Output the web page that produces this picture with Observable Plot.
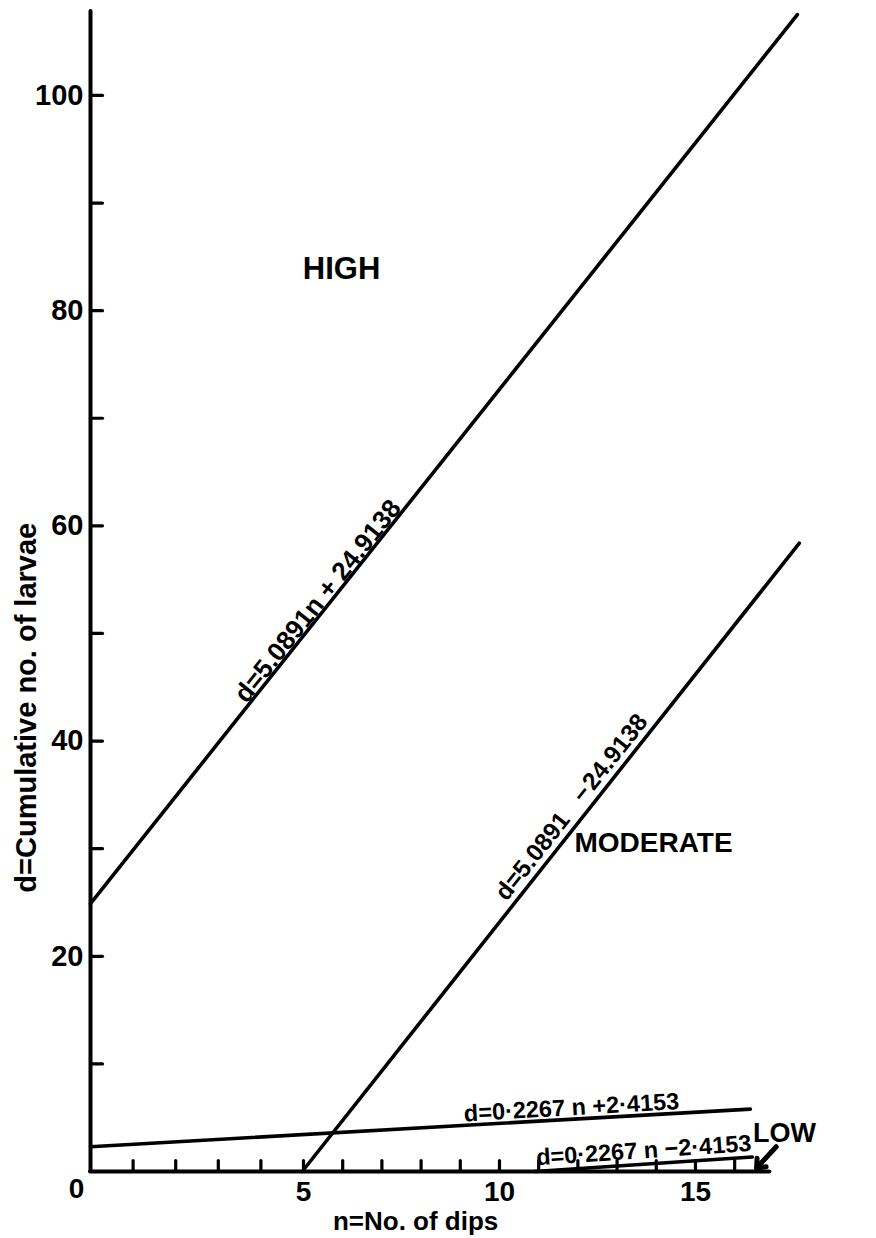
<!DOCTYPE html>
<html><head><meta charset="utf-8">
<script src="https://cdn.jsdelivr.net/npm/d3@7"></script>
<script src="https://cdn.jsdelivr.net/npm/@observablehq/plot@0.6"></script>
<style>html,body{margin:0;padding:0;background:#fff}</style>
</head><body><div id="chart"></div>
<script>
// ---- data ----
const lineIds    = ["high", "moderate", "lowUpper", "lowLower"];
const lineX1     = [0, 4.97, 0, 10.9];
const lineY1     = [24.9, 0, 2.3, 0];
const lineX2     = [17.6, 17.65, 16.4, 16.45];
const lineY2     = [107.5, 58.4, 5.8, 1.35];
const lineLabels = [
  "d=5.0891n + 24.9138",
  "d=5.0891\u00a0\u00a0\u00a0\u2212\u200a24.9138",
  "d=0\u00b72267 n +2\u00b74153",
  "d=0\u00b72267 n \u22122\u00b74153"
];
const labelAlong = [0.333, 0.565, 0.73, 0.505];   // fraction along each line
const labelGap   = [2, 7, 4, 6];
const labelSize  = [26, 24.5, 23.5, 23.5];

const yTickLabels = [20, 40, 60, 80, 100];
const yTicks      = [10, 20, 30, 40, 50, 60, 70, 80, 90, 100];
const xTickLabels = [5, 10, 15];
const xTicks      = [1, 2, 3, 4, 5, 6, 7, 8, 9, 10, 11, 12, 13, 14, 15, 16];
const xAxisEnd    = 16.9;

const regionNames = ["HIGH", "MODERATE", "LOW"];
const regionX     = [5.97, 13.93, 17.27];
const regionY     = [83.9, 30.5, 3.53];
const regionSize  = [31, 28, 27];

const lowArrow = {x1: 17.06, y1: 2.3, x2: 16.56, y2: 0.33};

const yTitle = {text: "d=Cumulative no. of larvae", y: 43.1};
const xTitle = {text: "n=No. of dips", x: 7.86};

// ---- layout ----
const W = 876, H = 1238;
const mL = 90, mR = 75.2, mT = 11, mB = 67;
const xDomain = [0, 5, 17.7], xRange = [90, 303, 800.8];
const yDomain = [0, 107.8];
const sx = d3.scaleLinear().domain(xDomain).range(xRange);
const sy = d3.scaleLinear().domain(yDomain).range([H - mB, mT]);

const FONT = "'Liberation Sans', Arial, sans-serif";
const tickShape = {draw(ctx, l) { ctx.moveTo(0, 0); ctx.lineTo(0, -l); }};

const lineLabelMarks = lineIds.map((id, i) => {
  const px1 = sx(lineX1[i]), py1 = sy(lineY1[i]), px2 = sx(lineX2[i]), py2 = sy(lineY2[i]);
  const ang = Math.atan2(py2 - py1, px2 - px1);
  const t = labelAlong[i];
  const px = px1 + t * (px2 - px1), py = py1 + t * (py2 - py1);
  return Plot.text([lineLabels[i]], {
    x: () => sx.invert(px), y: () => sy.invert(py), text: d => d,
    rotate: ang * 180 / Math.PI,
    dx: labelGap[i] * Math.sin(ang), dy: -labelGap[i] * Math.cos(ang),
    textAnchor: "middle", lineAnchor: "bottom",
    fontSize: labelSize[i], fontWeight: "bold", fill: "black"
  });
});

const chart = Plot.plot({
  width: W, height: H,
  marginLeft: mL, marginRight: mR, marginTop: mT, marginBottom: mB,
  x: {type: "linear", domain: xDomain, range: xRange, axis: null},
  y: {type: "linear", domain: yDomain, axis: null},
  style: {fontFamily: FONT, background: "white", color: "black"},
  marks: [
    // axes
    Plot.ruleX([0], {stroke: "black", strokeWidth: 4, strokeLinecap: "round"}),
    Plot.ruleY([0], {x1: 0, x2: xAxisEnd, stroke: "black", strokeWidth: 4, strokeLinecap: "round"}),
    Plot.vector(yTicks, {y: d => d, frameAnchor: "left", length: 12, rotate: 90, anchor: "start",
      shape: tickShape, stroke: "black", strokeWidth: 3.2}),
    Plot.vector(xTicks, {x: d => d, frameAnchor: "bottom", length: 11, rotate: 0, anchor: "start",
      shape: tickShape, stroke: "black", strokeWidth: 3.2}),
    Plot.text(yTickLabels, {y: d => d, frameAnchor: "left", dx: -7, textAnchor: "end", lineAnchor: "middle",
      text: d => String(d), fontSize: 29, fontWeight: "bold"}),
    Plot.text(xTickLabels, {x: d => d, frameAnchor: "bottom", dy: 21, textAnchor: "middle", lineAnchor: "middle",
      text: d => String(d), fontSize: 28, fontWeight: "bold"}),
    Plot.text(["0"], {x: () => 0, frameAnchor: "bottom", dx: -14, dy: 18, textAnchor: "middle", lineAnchor: "middle",
      fontSize: 28, fontWeight: "bold"}),
    // titles
    Plot.text([yTitle.text], {y: () => yTitle.y, frameAnchor: "left", dx: -64, rotate: -90,
      textAnchor: "middle", lineAnchor: "middle", fontSize: 29, fontWeight: "bold"}),
    Plot.text([xTitle.text], {x: () => xTitle.x, frameAnchor: "bottom", dy: 50,
      textAnchor: "middle", lineAnchor: "middle", fontSize: 26, fontWeight: "bold"}),
    // lines
    Plot.link(lineIds, {x1: (d, i) => lineX1[i], y1: (d, i) => lineY1[i],
      x2: (d, i) => lineX2[i], y2: (d, i) => lineY2[i],
      stroke: "black", strokeWidth: 3.6, strokeLinecap: "round"}),
    ...lineLabelMarks,
    // region labels
    ...regionNames.map((name, i) => Plot.text([name], {x: () => regionX[i], y: () => regionY[i],
      fontSize: regionSize[i], fontWeight: "bold", letterSpacing: i === 0 ? "1.5px" : "0px"})),
    Plot.arrow([lowArrow], {x1: "x1", y1: "y1", x2: "x2", y2: "y2",
      stroke: "black", strokeWidth: 5, headLength: 14, headAngle: 80})
  ]
});
document.getElementById("chart").appendChild(chart);
</script>
</body></html>
